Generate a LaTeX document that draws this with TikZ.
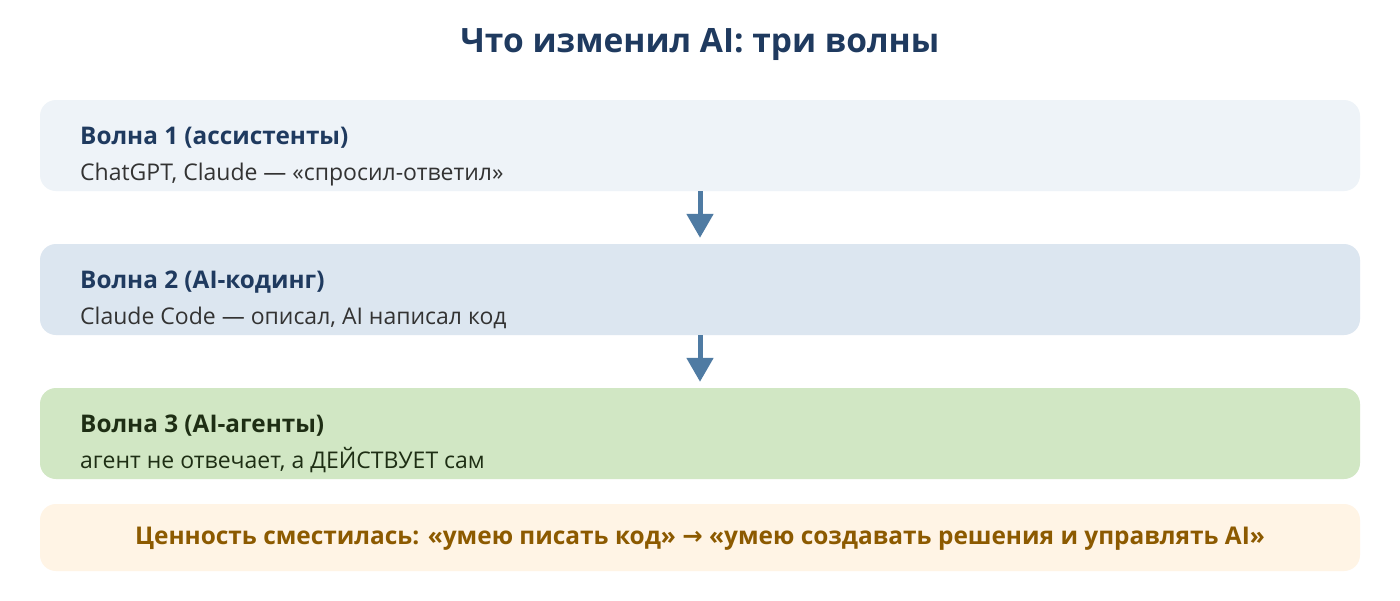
\documentclass[tikz,border=0pt]{standalone}
\usepackage{fontspec}
\setmainfont{Open Sans}
\newfontfamily\symfont{DejaVu Sans}
\usetikzlibrary{arrows.meta}
\definecolor{navy}{HTML}{1F3A5F}
\definecolor{subgray}{HTML}{333333}
\definecolor{wavea}{HTML}{EEF3F8}
\definecolor{waveb}{HTML}{DCE6F0}
\definecolor{wavec}{HTML}{D1E7C4}
\definecolor{darkgreen}{HTML}{1E2E14}
\definecolor{valuebg}{HTML}{FFF4E5}
\definecolor{valuetext}{HTML}{8C5A00}
\definecolor{arrowblue}{HTML}{4F7BA3}
\tikzset{
  wave/.style={rectangle, rounded corners=16pt, minimum width=1320pt, inner sep=0pt},
  head/.style={anchor=base west, inner sep=0pt, font=\fontsize{24.3}{28}\selectfont\bfseries},
  sub/.style={anchor=base west, inner sep=0pt, text=subgray, font=\fontsize{23}{27}\selectfont},
  flow/.style={-{Triangle[width=26pt,length=24pt]}, line width=5pt, arrowblue, shorten >=6pt}
}
\begin{document}
\begin{tikzpicture}[x=1pt,y=-1pt]
\useasboundingbox[fill=white] (0,0) rectangle (1400,600);
% Define the nodes
\node[text=navy, font=\fontsize{33.5}{38}\selectfont\bfseries] at (700,45) (title) {Что изменил AI: три волны};
\node[wave, fill=wavea, minimum height=91pt] at (700,145.5) (w1) {};
\node[head, text=navy] at (80,144) (w1head) {Волна 1 (ассистенты)};
\node[sub] at (80,180) (w1sub) {ChatGPT, Claude — «спросил-ответил»};
\node[wave, fill=waveb, minimum height=91pt] at (700,289.5) (w2) {};
\node[head, text=navy] at (80,288) (w2head) {Волна 2 (AI-кодинг)};
\node[sub] at (80,324) (w2sub) {Claude Code — описал, AI написал код};
\node[wave, fill=wavec, minimum height=91pt] at (700,433.5) (w3) {};
\node[head, text=darkgreen] at (80,432) (w3head) {Волна 3 (AI-агенты)};
\node[sub, text=darkgreen] at (80,468) (w3sub) {агент не отвечает, а ДЕЙСТВУЕТ сам};
\node[wave, fill=valuebg, minimum height=67pt] at (700,537.5) (value) {};
\node[text=valuetext, font=\fontsize{24.4}{28}\selectfont\bfseries] at (700,539) (valuetxt) {Ценность сместилась: «умею писать код» {\symfont →} «умею создавать решения и управлять AI»};
% Draw the paths
\draw[flow] (w1.south) -- (w2.north);
\draw[flow] (w2.south) -- (w3.north);
\end{tikzpicture}
\end{document}
